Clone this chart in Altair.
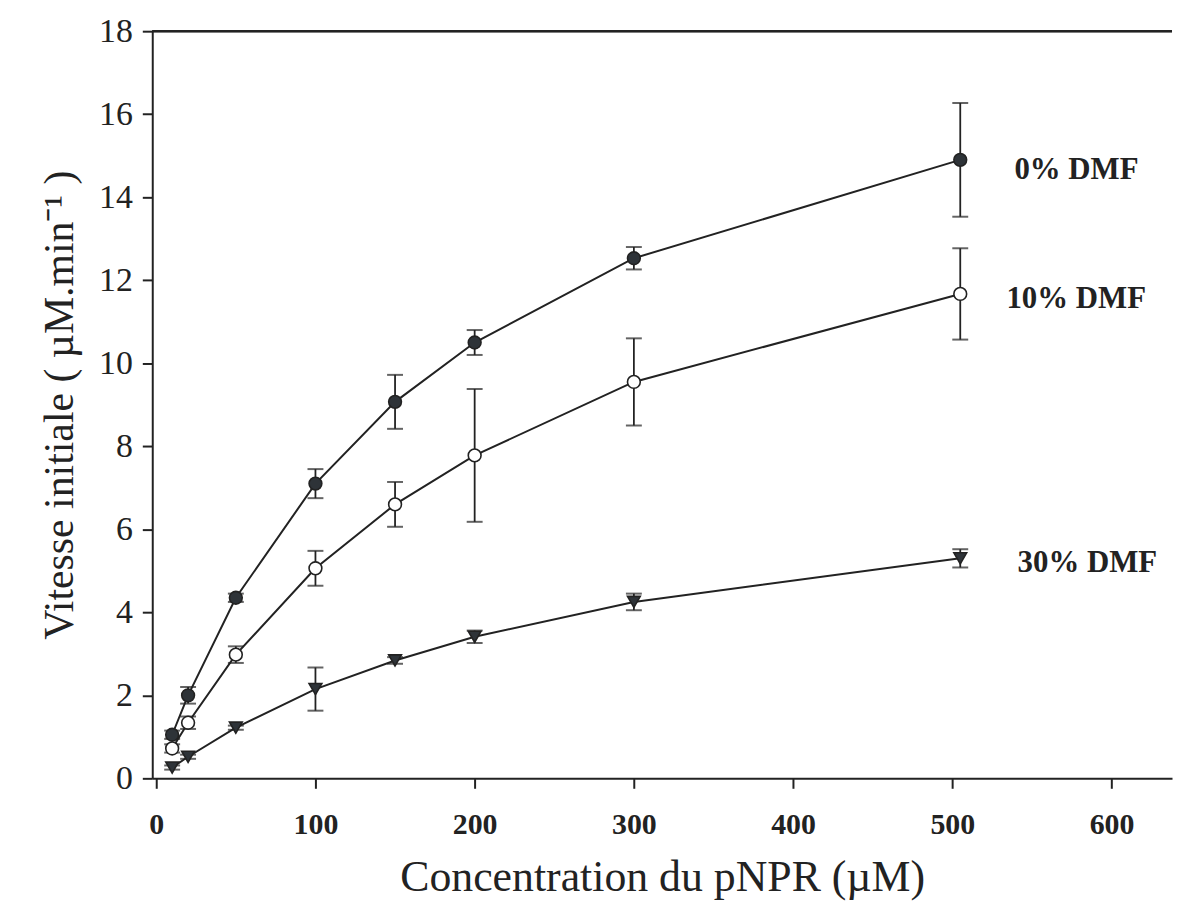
import altair as alt
import pandas as pd

conc = [10, 20, 50, 100, 150, 200, 300, 505]
series_names = ["0% DMF", "10% DMF", "30% DMF"]
v0 = [1.05, 2.0, 4.35, 7.1, 9.07, 10.5, 12.53, 14.9]
e0 = [0.1, 0.2, 0.1, 0.35, 0.65, 0.3, 0.27, 1.37]
v10 = [0.72, 1.34, 2.98, 5.06, 6.6, 7.78, 9.55, 11.67]
e10 = [0.1, 0.15, 0.2, 0.42, 0.54, 1.6, 1.05, 1.1]
v30 = [0.26, 0.52, 1.22, 2.15, 2.84, 3.41, 4.25, 5.3]
e30 = [0.05, 0.05, 0.05, 0.52, 0.08, 0.15, 0.2, 0.22]

label_x = [539, 534, 541]
label_y = [14.65, 11.55, 5.18]

rows = []
for name, vals, errs in zip(series_names, [v0, v10, v30], [e0, e10, e30]):
    for c, v, e in zip(conc, vals, errs):
        rows.append({"series": name, "x": c, "y": v, "lo": v - e, "hi": v + e})
df = pd.DataFrame(rows)
labels = pd.DataFrame({"series": series_names, "x": label_x, "y": label_y})

W, H = 1025, 751
FONT = "Liberation Serif"
INK = "#222"

xs = alt.Scale(domain=[-2.5, 638], nice=False, zero=False)
ys = alt.Scale(domain=[0, 18], nice=False)

xax = alt.Axis(values=[0, 100, 200, 300, 400, 500, 600], title="Concentration du pNPR (µM)",
               labelFont=FONT, labelFontSize=30, labelFontWeight="bold", labelColor=INK,
               titleFont=FONT, titleFontSize=44, titleFontWeight="normal", titleColor=INK,
               titlePadding=17, labelPadding=21, tickSize=10, tickColor=INK, domainColor=INK,
               tickWidth=2, domainWidth=2, grid=False, labelFlush=False)
yax = alt.Axis(values=list(range(0, 19, 2)), title="Vitesse initiale  ( µM.min⁻¹ )",
               labelFont=FONT, labelFontSize=34, labelColor=INK, titleFont=FONT,
               titleFontSize=42, titleFontWeight="normal", titleColor=INK,
               titlePadding=17, labelPadding=10, tickSize=10, tickColor=INK,
               domainColor=INK, tickWidth=2, domainWidth=2, grid=False)

base = alt.Chart(df)

lines = base.mark_line(color=INK, strokeWidth=2).encode(
    x=alt.X("x:Q", scale=xs, axis=xax),
    y=alt.Y("y:Q", scale=ys, axis=yax),
    detail="series:N",
)
bars = base.mark_rule(color=INK, strokeWidth=1.8).encode(
    x="x:Q", y="lo:Q", y2="hi:Q"
)
cap_hi = base.mark_tick(color=INK, thickness=2, size=16, orient="horizontal").encode(x="x:Q", y="hi:Q")
cap_lo = base.mark_tick(color=INK, thickness=2, size=16, orient="horizontal").encode(x="x:Q", y="lo:Q")

pts = base.mark_point(filled=True, size=165, strokeWidth=1.6, stroke=INK, opacity=1).encode(
    x="x:Q", y="y:Q",
    shape=alt.Shape("series:N", scale=alt.Scale(domain=series_names, range=["circle", "circle", "triangle-down"]), legend=None),
    fill=alt.Fill("series:N", scale=alt.Scale(domain=series_names, range=["#2e3338", "white", "#2e3338"]), legend=None),
)

texts = alt.Chart(labels).mark_text(align="left", baseline="middle", font=FONT, fontSize=31,
                                    fontWeight="bold", color=INK).encode(
    x="x:Q", y="y:Q", text="series:N"
)

top = alt.Chart(labels).mark_rule(color=INK, strokeWidth=2).encode(
    y=alt.datum(18), x=alt.value(0), x2=alt.value(W)
)

chart = alt.layer(top, lines, bars, cap_hi, cap_lo, pts, texts).properties(
    width=W, height=H, padding={"left": 31, "top": 4, "right": 0, "bottom": 0},
    view=alt.ViewBackground(stroke="transparent", strokeWidth=0, strokeOpacity=0),
).configure_view(strokeOpacity=0, strokeWidth=0).configure(background="white")

chart.save("out.html", embed_options={"renderer": "svg", "actions": False})
